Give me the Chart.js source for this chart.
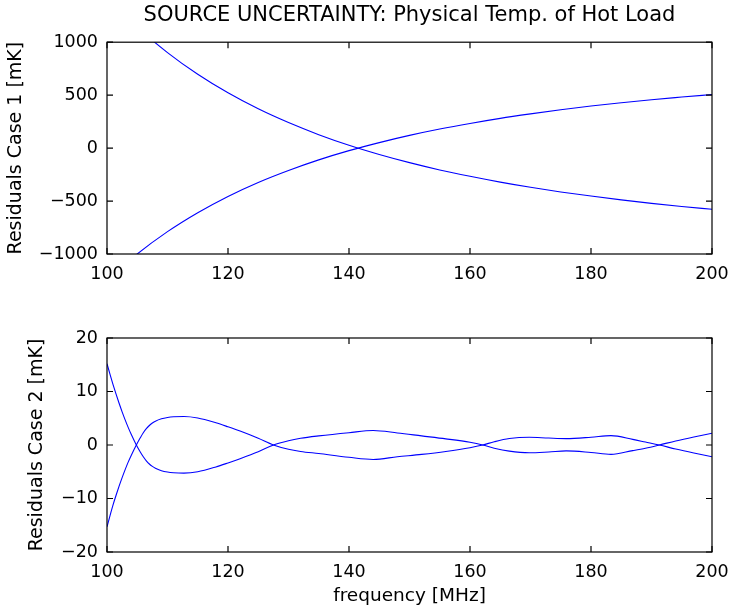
<!DOCTYPE html>
<html>
<head>
<meta charset="utf-8">
<script src="https://cdn.jsdelivr.net/npm/chart.js@4/dist/chart.umd.min.js"></script>
<style>
  html, body { margin: 0; padding: 0; background: #fff; }
  #wrap { position: relative; width: 734px; height: 609px; }
  canvas { position: absolute; left: 0; }
  #case1 { top: 0; }
  #case2 { top: 300px; }
</style>
</head>
<body>
<div id="wrap">
  <canvas id="case1" width="734" height="300"></canvas>
  <canvas id="case2" width="734" height="309"></canvas>
</div>
<script>
// values
const freqTop = [100, 105, 110, 115, 120, 125, 130, 135, 140, 145, 150,
                 155, 160, 165, 170, 175, 180, 185, 190, 195, 200];
const case1Down = [1430, 1143, 902, 697, 522, 371, 241, 127, 27, -60, -137,
                   -206, -266, -321, -370, -414, -453, -489, -522, -551, -578];
const case1Up = [-1250, -1000, -789, -610, -456, -324, -211, -111, -24, 52, 120,
                 180, 233, 281, 323, 362, 397, 428, 457, 482, 506];

const freqBottom = [100, 100.5, 101, 101.5, 102, 102.5, 103, 103.5, 104, 104.85,
                    105.5, 106, 106.5, 107, 107.5, 108, 109, 110, 111, 112.7,
                    115, 118, 120, 122, 125, 127.5, 130, 132, 135, 140,
                    144, 148, 152, 156, 160, 162.1, 164, 166.5, 169.8, 173,
                    175.9, 180, 183.3, 186.9, 189, 191.3, 194, 197, 200];
const case2High = [15.2, 13.2, 11.3, 9.5, 7.8, 6.2, 4.7, 3.3, 2.0, 0,
                   -1.3, -2.2, -2.95, -3.55, -4.0, -4.35, -4.8, -5.05, -5.18, -5.25,
                   -5.0, -4.1, -3.35, -2.55, -1.25, 0, 0.8, 1.25, 1.7, 2.3,
                   2.7, 2.25, 1.7, 1.15, 0.5, 0, -0.6, -1.15, -1.45, -1.3,
                   -1.1, -1.4, -1.75, -1.05, -0.6, 0, 0.75, 1.5, 2.2];
const case2Low = [-15.3, -13.2, -11.2, -9.4, -7.7, -6.1, -4.6, -3.2, -1.95, 0,
                  1.35, 2.3, 3.05, 3.65, 4.1, 4.45, 4.9, 5.15, 5.28, 5.33,
                  5.05, 4.15, 3.4, 2.6, 1.25, 0, -0.8, -1.2, -1.6, -2.3,
                  -2.7, -2.2, -1.75, -1.2, -0.5, 0, 0.6, 1.2, 1.45, 1.3,
                  1.2, 1.45, 1.75, 1.05, 0.55, 0, -0.75, -1.5, -2.2];

const xTicks = [100, 120, 140, 160, 180, 200];
const yTicksTop = [-1000, -500, 0, 500, 1000];
const yTicksBottom = [-20, -10, 0, 10, 20];

Chart.defaults.font.family = 'DejaVu Sans';
Chart.defaults.color = '#000';

const pts = (xs, ys) => xs.map((v, i) => ({ x: v, y: ys[i] }));
const minus = v => String(v).replace('-', '\u2212');

// box round the plot area with inward ticks on all four sides
const matlabBox = {
  id: 'matlabBox',
  afterDraw(chart) {
    const { ctx, chartArea: a, scales: { x, y } } = chart;
    const len = 6;
    ctx.save();
    ctx.strokeStyle = '#000';
    ctx.lineWidth = 1.2;
    ctx.beginPath();
    x.ticks.forEach(t => {
      const px = x.getPixelForValue(t.value);
      ctx.moveTo(px, a.bottom); ctx.lineTo(px, a.bottom - len);
      ctx.moveTo(px, a.top); ctx.lineTo(px, a.top + len);
    });
    y.ticks.forEach(t => {
      const py = y.getPixelForValue(t.value);
      ctx.moveTo(a.left, py); ctx.lineTo(a.left + len, py);
      ctx.moveTo(a.right, py); ctx.lineTo(a.right - len, py);
    });
    ctx.stroke();
    ctx.strokeRect(a.left, a.top, a.right - a.left, a.bottom - a.top);
    ctx.restore();
  }
};

function lineSet(data) {
  return {
    data: data,
    borderColor: '#0000ff',
    borderWidth: 1.1,
    pointRadius: 0,
    fill: false,
    cubicInterpolationMode: 'monotone'
  };
}

function makeOptions(cfg) {
  return {
    responsive: false,
    animation: false,
    devicePixelRatio: 1,
    layout: { padding: cfg.padding },
    plugins: {
      legend: { display: false },
      tooltip: { enabled: false },
      title: cfg.title
    },
    scales: {
      x: {
        type: 'linear',
        min: 100, max: 200,
        grid: { display: false, drawTicks: false },
        border: { display: false },
        afterBuildTicks: s => { s.ticks = xTicks.map(v => ({ value: v })); },
        ticks: { padding: 10, maxRotation: 0, font: { size: 17.5 }, callback: v => v },
        title: cfg.xTitle,
        afterFit: s => {
          s.height = cfg.xHeight;
          s.paddingLeft = 0;
          s.paddingRight = 0;
        }
      },
      y: {
        min: cfg.yTicks[0], max: cfg.yTicks[cfg.yTicks.length - 1],
        grid: { display: false, drawTicks: false },
        border: { display: false },
        afterBuildTicks: s => { s.ticks = cfg.yTicks.map(v => ({ value: v })); },
        ticks: { padding: 9, font: { size: 17.5 }, callback: minus },
        title: { display: true, text: cfg.yText, font: { size: 19 }, padding: { top: 5, bottom: 4 } },
        afterFit: s => {
          s.width = cfg.yWidth;
          s.paddingTop = 0;
          s.paddingBottom = 0;
        }
      }
    }
  };
}

new Chart(document.getElementById('case1'), {
  type: 'line',
  data: { datasets: [lineSet(pts(freqTop, case1Down)), lineSet(pts(freqTop, case1Up))] },
  options: makeOptions({
    padding: { left: 0, right: 22, top: 0, bottom: 0 },
    title: {
      display: true,
      fullSize: false,
      text: 'SOURCE UNCERTAINTY: Physical Temp. of Hot Load',
      font: { size: 21, weight: 'normal' },
      padding: { top: 3, bottom: 14 }
    },
    xTitle: { display: false },
    xHeight: 46,
    yTicks: yTicksTop,
    yText: 'Residuals Case 1 [mK]',
    yWidth: 107
  }),
  plugins: [matlabBox]
});

new Chart(document.getElementById('case2'), {
  type: 'line',
  data: { datasets: [lineSet(pts(freqBottom, case2High)), lineSet(pts(freqBottom, case2Low))] },
  options: makeOptions({
    padding: { left: 21, right: 22, top: 38, bottom: 0 },
    title: { display: false },
    xTitle: { display: true, text: 'frequency [MHz]', font: { size: 18.5 }, padding: { top: 0, bottom: 2 } },
    xHeight: 57,
    yTicks: yTicksBottom,
    yText: 'Residuals Case 2 [mK]',
    yWidth: 86
  }),
  plugins: [matlabBox]
});
</script>
</body>
</html>
